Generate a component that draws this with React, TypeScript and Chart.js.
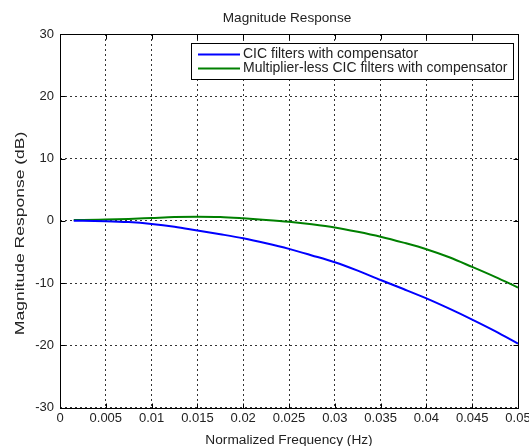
import React, { useEffect, useRef } from "react";
import { Chart, registerables } from "chart.js";

Chart.register(...registerables);

const chartTitle = "Magnitude Response";
const xAxisTitle = "Normalized Frequency (Hz)";
const yAxisTitle = "Magnitude Response (dB)";

const frequencies = [
  0.0015, 0.0025, 0.005, 0.0075, 0.01, 0.0125, 0.015, 0.0175, 0.02, 0.0225, 0.025,
  0.0275, 0.03, 0.0325, 0.035, 0.0375, 0.04, 0.0425, 0.045, 0.0475, 0.05,
];
const cicWithCompensator = [
  0, 0, -0.05, -0.2, -0.5, -0.95, -1.55, -2.15, -2.8, -3.6, -4.5,
  -5.55, -6.65, -8.0, -9.5, -10.95, -12.45, -14.1, -15.85, -17.7, -19.7,
];
const multiplierlessCic = [
  0.15, 0.15, 0.2, 0.3, 0.45, 0.6, 0.65, 0.6, 0.4, 0.15, -0.15,
  -0.55, -1.05, -1.75, -2.55, -3.5, -4.55, -5.85, -7.4, -9.0, -10.7,
];
const seriesLabels = [
  "CIC filters with compensator",
  "Multiplier-less CIC filters with compensator",
];
const seriesColors = ["#0000ff", "#008000"];

const xTickValues = [0, 0.005, 0.01, 0.015, 0.02, 0.025, 0.03, 0.035, 0.04, 0.045, 0.05];
const xTickLabels = ["0", "0.005", "0.01", "0.015", "0.02", "0.025", "0.03", "0.035", "0.04", "0.045", "0.05"];
const yTickValues = [-30, -20, -10, 0, 10, 20, 30];
const yTickLabels = ["-30", "-20", "-10", "0", "10", "20", "30"];

const FONT = "'Liberation Sans', Arial, sans-serif";
const TEXT = "#222";

const framePlugin = {
  id: "matlabFrame",
  afterDraw(chart: any) {
    const { ctx, chartArea } = chart;
    const { left, right, top, bottom } = chartArea;
    const xs = chart.scales.x;
    const ys = chart.scales.y;
    ctx.save();
    ctx.strokeStyle = "#000";
    ctx.lineWidth = 1;
    ctx.setLineDash([]);
    const L = Math.round(left) + 0.5;
    const R = Math.round(right) + 0.5;
    const T = Math.round(top) + 0.5;
    const B = Math.round(bottom) + 0.5;
    ctx.strokeRect(L, T, R - L, B - T);
    const tl = 5;
    ctx.beginPath();
    xTickValues.forEach((v) => {
      const p = Math.round(xs.getPixelForValue(v)) + 0.5;
      ctx.moveTo(p, B);
      ctx.lineTo(p, B - tl);
      ctx.moveTo(p, T);
      ctx.lineTo(p, T + tl);
    });
    yTickValues.forEach((v) => {
      const p = Math.round(ys.getPixelForValue(v)) + 0.5;
      ctx.moveTo(L, p);
      ctx.lineTo(L + tl, p);
      ctx.moveTo(R, p);
      ctx.lineTo(R - tl, p);
    });
    ctx.stroke();

    // title
    ctx.fillStyle = TEXT;
    ctx.font = `13.6px ${FONT}`;
    ctx.textAlign = "center";
    ctx.textBaseline = "middle";
    ctx.fillText(chartTitle, (left + right) / 2 - 2, 18);

    // y axis title (stretched along its length like the reference)
    ctx.save();
    ctx.translate(23.8, 233.4);
    ctx.rotate(-Math.PI / 2);
    ctx.scale(1.28, 1);
    ctx.font = `13.7px ${FONT}`;
    ctx.textAlign = "center";
    ctx.textBaseline = "alphabetic";
    ctx.fillText(yAxisTitle, 0, 0);
    ctx.restore();

    // legend
    const bx = 191.5, by = 43.5, bw = 322, bh = 36;
    ctx.fillStyle = "#fff";
    ctx.fillRect(bx, by, bw, bh);
    ctx.strokeStyle = "#000";
    ctx.lineWidth = 1;
    ctx.strokeRect(bx, by, bw, bh);
    chart.data.datasets.forEach((ds: any, i: number) => {
      const y = 54.5 + i * 14;
      ctx.strokeStyle = ds.borderColor;
      ctx.lineWidth = 2;
      ctx.beginPath();
      ctx.moveTo(198, y);
      ctx.lineTo(240, y);
      ctx.stroke();
      ctx.fillStyle = TEXT;
      ctx.textAlign = "left";
      ctx.textBaseline = "middle";
      ctx.font = `14px ${FONT}`;
      ctx.fillText(ds.label, 243, y);
    });
    ctx.restore();
  },
};

export default function App() {
  const ref = useRef<HTMLCanvasElement | null>(null);
  useEffect(() => {
    if (!ref.current) return;
    const chart = new Chart(ref.current, {
      type: "line",
      data: {
        datasets: [
          {
            label: seriesLabels[0],
            data: frequencies.map((f, i) => ({ x: f, y: cicWithCompensator[i] })),
            borderColor: seriesColors[0],
            backgroundColor: seriesColors[0],
            borderWidth: 2,
            pointRadius: 0,
            cubicInterpolationMode: "monotone",
          },
          {
            label: seriesLabels[1],
            data: frequencies.map((f, i) => ({ x: f, y: multiplierlessCic[i] })),
            borderColor: seriesColors[1],
            backgroundColor: seriesColors[1],
            borderWidth: 2,
            pointRadius: 0,
            cubicInterpolationMode: "monotone",
          },
        ],
      },
      options: {
        animation: false,
        responsive: false,
        devicePixelRatio: 1,
        layout: { padding: { left: 0, right: 11, top: 34, bottom: 0 } },
        plugins: {
          legend: { display: false },
          title: { display: false },
          tooltip: { enabled: false },
        },
        scales: {
          x: {
            type: "linear",
            min: 0,
            max: 0.05,
            afterBuildTicks: (scale: any) => {
              scale.ticks = xTickValues.map((v) => ({ value: v }));
            },
            afterFit: (scale: any) => {
              scale.height = 38.3;
              scale.paddingLeft = 0;
              scale.paddingRight = 0;
            },
            grid: { color: "#333", lineWidth: 1, drawTicks: false },
            border: { display: false, dash: [2, 3] },
            ticks: {
              autoSkip: false,
              maxRotation: 0,
              padding: 3,
              color: TEXT,
              font: { family: FONT, size: 13 },
              callback: (_v: any, i: number) => xTickLabels[i],
            },
            title: {
              display: true,
              text: xAxisTitle,
              color: TEXT,
              font: { family: FONT, size: 13.7, lineHeight: 1 },
              padding: { top: 0, bottom: -1.5 },
            },
          },
          y: {
            type: "linear",
            min: -30,
            max: 30,
            afterBuildTicks: (scale: any) => {
              scale.ticks = yTickValues.map((v) => ({ value: v }));
            },
            afterFit: (scale: any) => {
              scale.width = 60;
              scale.paddingTop = 0;
              scale.paddingBottom = 0;
            },
            grid: { color: "#333", lineWidth: 1, drawTicks: false },
            border: { display: false, dash: [2, 3] },
            ticks: {
              autoSkip: false,
              padding: 6,
              color: TEXT,
              font: { family: FONT, size: 13 },
              callback: (_v: any, i: number) => yTickLabels[i],
            },
            title: { display: false, text: yAxisTitle },
          },
        },
      },
      plugins: [framePlugin],
    });
    return () => chart.destroy();
  }, []);
  return (
    <div style={{ position: "fixed", left: 0, top: 0, width: 529, height: 446, background: "#fff" }}>
      <canvas ref={ref} width={529} height={446} style={{ display: "block" }} />
    </div>
  );
}
